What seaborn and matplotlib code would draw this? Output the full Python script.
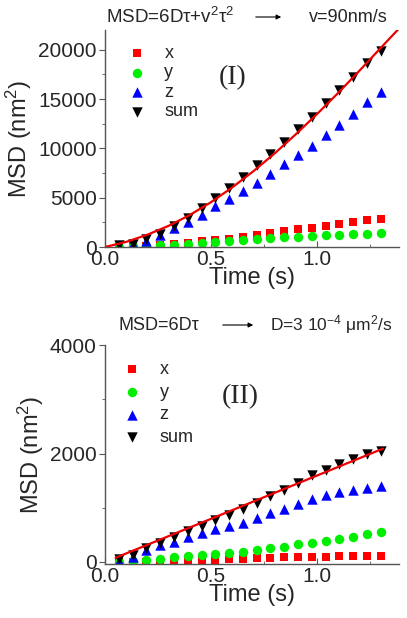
import matplotlib
matplotlib.use('Agg')
import matplotlib.pyplot as plt
from matplotlib.ticker import MultipleLocator
import seaborn as sns

# lag times (s)
tau = [0.065, 0.13, 0.195, 0.26, 0.325, 0.39, 0.455, 0.52, 0.585, 0.65,
       0.715, 0.78, 0.845, 0.91, 0.975, 1.04, 1.105, 1.17, 1.235, 1.3]

# panel (I): directed motion, MSD in nm^2
msd1_x = [20, 60, 120, 200, 300, 420, 560, 700, 850, 1000,
          1180, 1380, 1600, 1780, 1960, 2120, 2330, 2530, 2700, 2880]
msd1_y = [20, 60, 120, 160, 220, 300, 400, 500, 600, 720,
          800, 900, 980, 1050, 1130, 1180, 1260, 1320, 1360, 1400]
msd1_z = [80, 280, 650, 1190, 1960, 2530, 3210, 4120, 4900, 5700,
          6480, 7430, 8400, 9320, 10230, 11310, 12400, 13510, 14690, 15770]
msd1_sum = [170, 340, 810, 1360, 2100, 2900, 3990, 5000, 6020, 7090,
            8300, 9460, 10700, 11950, 13200, 14570, 15920, 17270, 18630, 19900]
fit1_t = [0.0, 0.1, 0.2, 0.3, 0.4, 0.5, 0.6, 0.7, 0.8, 0.9, 1.0, 1.1, 1.2, 1.3, 1.385]
fit1_v = [0, 520, 1250, 2150, 3250, 4550, 6050, 7700, 9500, 11450,
          13500, 15650, 17900, 20200, 22150]

# panel (II): diffusive motion
msd2_x = [-10, -10, -5, 0, 5, 15, 25, 35, 45, 55,
          65, 72, 80, 85, 90, 95, 100, 105, 110, 115]
msd2_y = [0, 20, 40, 60, 80, 100, 120, 145, 165, 190,
          220, 250, 280, 320, 355, 390, 430, 465, 505, 550]
msd2_z = [20, 97, 220, 312, 373, 453, 526, 600, 660, 722,
          801, 893, 972, 1070, 1155, 1240, 1290, 1330, 1368, 1400]
msd2_sum = [50, 128, 250, 343, 465, 570, 660, 770, 862, 972,
            1090, 1211, 1321, 1462, 1596, 1700, 1810, 1903, 1982, 2055]
fit2_t = [0.05, 1.31]
fit2_v = [75, 2090]

sns.set_style('ticks')
plt.rcParams['font.family'] = ['Liberation Sans', 'DejaVu Sans']
plt.rcParams['mathtext.fontset'] = 'custom'
plt.rcParams['mathtext.rm'] = 'Liberation Sans'
plt.rcParams['mathtext.default'] = 'regular'

fig = plt.figure(figsize=(4.07, 6.18), dpi=100)
ax1 = fig.add_axes([0.258, 0.6003, 0.722, 0.351])
ax2 = fig.add_axes([0.258, 0.0874, 0.722, 0.354])


def draw_panel(ax, sx, sy, sz, ssum, ft, fv):
    sns.scatterplot(x=tau, y=sx, marker='s', color='#ff0000', s=34, linewidth=0, label='x', ax=ax)
    sns.scatterplot(x=tau, y=sy, marker='o', color='#00ee00', s=46, linewidth=0, label='y', ax=ax)
    sns.scatterplot(x=tau, y=sz, marker='^', color='#0000ff', s=56, linewidth=0, label='z', ax=ax)
    sns.scatterplot(x=tau, y=ssum, marker='v', color='black', s=56, linewidth=0, label='sum', ax=ax)
    sns.lineplot(x=ft, y=fv, color='#ee0000', lw=1.6, ax=ax, zorder=5)
    ax.set_xlim(0, 1.385)
    ax.xaxis.set_major_locator(MultipleLocator(0.5))
    ax.xaxis.set_minor_locator(MultipleLocator(0.25))
    ax.tick_params(axis='x', which='both', direction='in', labelsize=15, pad=2)
    ax.tick_params(axis='y', which='both', direction='out', labelsize=15, pad=2)
    ax.tick_params(which='major', length=4, color='#555555')
    ax.tick_params(which='minor', length=2.5, color='#555555')
    ax.set_xlabel('Time (s)', fontsize=17, labelpad=-1)
    ax.set_ylabel('MSD (nm$^2$)', fontsize=17, labelpad=3)
    sns.despine(ax=ax)
    for side in ['left', 'bottom']:
        ax.spines[side].set_color('#555555')
        ax.spines[side].set_linewidth(1.0)


draw_panel(ax1, msd1_x, msd1_y, msd1_z, msd1_sum, fit1_t, fit1_v)
ax1.set_ylim(0, 22000)
ax1.yaxis.set_major_locator(MultipleLocator(5000))
ax1.yaxis.set_minor_locator(MultipleLocator(2500))
ax1.legend(loc='upper left', bbox_to_anchor=(0.024, 0.965), borderaxespad=0, frameon=False,
           fontsize=13, handletextpad=0.5, labelspacing=0.14, handlelength=2)
ax1.text(0.435, 0.783, '(I)', transform=ax1.transAxes, fontsize=20,
         family='Liberation Serif', ha='center', va='center')

draw_panel(ax2, msd2_x, msd2_y, msd2_z, msd2_sum, fit2_t, fit2_v)
ax2.set_ylim(-40, 4000)
ax2.yaxis.set_major_locator(MultipleLocator(2000))
ax2.yaxis.set_minor_locator(MultipleLocator(1000))
ax2.legend(loc='upper left', bbox_to_anchor=(0.007, 0.962), borderaxespad=0, frameon=False,
           fontsize=13, handletextpad=0.5, labelspacing=0.32, handlelength=2)
ax2.text(0.459, 0.763, '(II)', transform=ax2.transAxes, fontsize=20,
         family='Liberation Serif', ha='center', va='center')

# model headers with arrows
arrow = dict(arrowstyle='-|>', lw=0.8, color='black', mutation_scale=7)
fig.text(106 / 407, 1 - 17 / 618, 'MSD=6Dτ+v$^2$τ$^2$', fontsize=13.5, va='center')
fig.text(309 / 407, 1 - 17 / 618, 'v=90nm/s', fontsize=13, va='center')
ax1.annotate('', xy=(284 / 407, 1 - 17 / 618), xytext=(253 / 407, 1 - 17 / 618),
             xycoords='figure fraction', textcoords='figure fraction', arrowprops=arrow)

fig.text(118 / 407, 1 - 325 / 618, 'MSD=6Dτ', fontsize=13, va='center')
fig.text(270 / 407, 1 - 325 / 618, 'D=3 10$^{-4}$ μm$^2$/s', fontsize=12.5, va='center')
ax2.annotate('', xy=(256 / 407, 1 - 325 / 618), xytext=(220 / 407, 1 - 325 / 618),
             xycoords='figure fraction', textcoords='figure fraction', arrowprops=arrow)

plt.savefig('out.png', dpi=100)
